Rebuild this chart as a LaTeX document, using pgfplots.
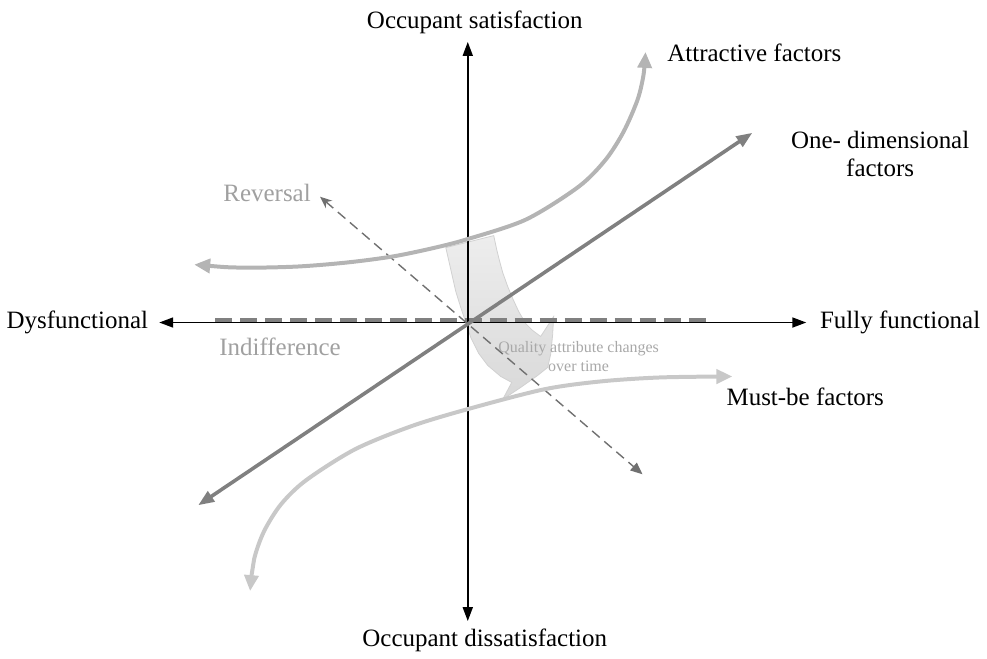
\documentclass[border=0pt]{standalone}
\usepackage{pgfplots}
\pgfplotsset{compat=1.18}
\usepackage{fontspec}
\setmainfont{Liberation Serif}
\usetikzlibrary{arrows.meta}
\definecolor{attrc}{RGB}{180,180,180}
\definecolor{onec}{RGB}{128,128,128}
\definecolor{mustc}{RGB}{200,200,200}
\definecolor{revc}{RGB}{112,112,112}
\definecolor{indc}{RGB}{128,128,128}
\definecolor{lblc}{RGB}{160,160,160}
\definecolor{qc}{RGB}{168,168,168}
\begin{document}
\begin{tikzpicture}
\begin{axis}[width=493.5pt,height=326pt,scale only axis,
  xmin=0,xmax=987,ymin=0,ymax=652,y dir=reverse,
  axis lines=none,clip=false]
\path (rel axis cs:0,0) rectangle (rel axis cs:1,1);
% big curved arrow
\addplot[draw=black!18,line width=0.4pt,top color=black!7,bottom color=black!15] coordinates {
(445,248) (469,242) (493,236)
(496,250) (499,262) (502,273) (507,287) (512,299) (518,312) (525,324) (532,331) (540,337)
(553,317)
(552,335) (550,355) (547,368) (537,376) (520,388) (502,400)
(511,383)
(500,377) (487,366) (478,354) (470,338) (465,323) (460,308) (455,292) (450,270) (445,248)
};
% indifference dashed
\addplot[indc,line width=2pt,dash pattern=on 8.5pt off 4pt] coordinates {(214,320) (710,320)};
% axes
\addplot[black,line width=0.9pt,{Triangle[length=7pt,width=5pt]}-{Triangle[length=7pt,width=5pt]}] coordinates {(158,323) (806,323)};
\addplot[black,line width=0.9pt,{Triangle[length=7pt,width=5pt]}-{Triangle[length=7pt,width=5pt]}] coordinates {(467,42) (467,622)};
% one-dimensional
\addplot[onec,line width=1.8pt,{Triangle[length=8pt,width=6pt]}-{Triangle[length=8pt,width=6pt]}] coordinates {(197,506) (752,133)};
% reversal dashed
\addplot[revc,line width=0.7pt,dash pattern=on 5pt off 3pt,{Stealth[length=6pt,width=5pt]}-{Triangle[length=6pt,width=5pt]}] coordinates {(319,197) (642,475)};
% attractive
\addplot[attrc,line width=2pt,smooth,{Triangle[length=8pt,width=7pt]}-{Triangle[length=8pt,width=7pt]}] coordinates {
(193,265) (240,268) (295,267) (345,263) (391,257) (430,249) (465,240) (525,220) (578,187) (605,160) (623,132) (637,100) (643,75) (645,52)};
% must-be
\addplot[mustc,line width=2pt,smooth,{Triangle[length=8pt,width=7pt]}-{Triangle[length=8pt,width=7pt]}] coordinates {
(249,592) (253,560) (263,532) (280,505) (305,481) (354,450) (410,427) (466,410) (543,390) (600,382) (660,378) (732,377)};
% labels
\node[font=\fontsize{12.5}{14}\selectfont] at (axis cs:474,22) {Occupant satisfaction};
\node[font=\fontsize{12.5}{14}\selectfont] at (axis cs:484,641) {Occupant dissatisfaction};
\node[font=\fontsize{12.5}{14}\selectfont] at (axis cs:76,323) {Dysfunctional};
\node[font=\fontsize{12.5}{14}\selectfont] at (axis cs:900,323) {Fully functional};
\node[font=\fontsize{12.5}{14}\selectfont] at (axis cs:754,53) {Attractive factors};
\node[font=\fontsize{12.5}{14}\selectfont,align=center] at (axis cs:880,154) {One- dimensional\\factors};
\node[font=\fontsize{12.5}{14}\selectfont] at (axis cs:805,397) {Must-be factors};
\node[font=\fontsize{12.5}{14}\selectfont,text=lblc] at (axis cs:266,193) {Reversal};
\node[font=\fontsize{12.5}{14}\selectfont,text=lblc] at (axis cs:279,347) {Indifference};
\node[font=\fontsize{8}{9.5}\selectfont,text=qc,align=center] at (axis cs:578,357) {Quality attribute changes\\over time};
\end{axis}
\end{tikzpicture}
\end{document}
